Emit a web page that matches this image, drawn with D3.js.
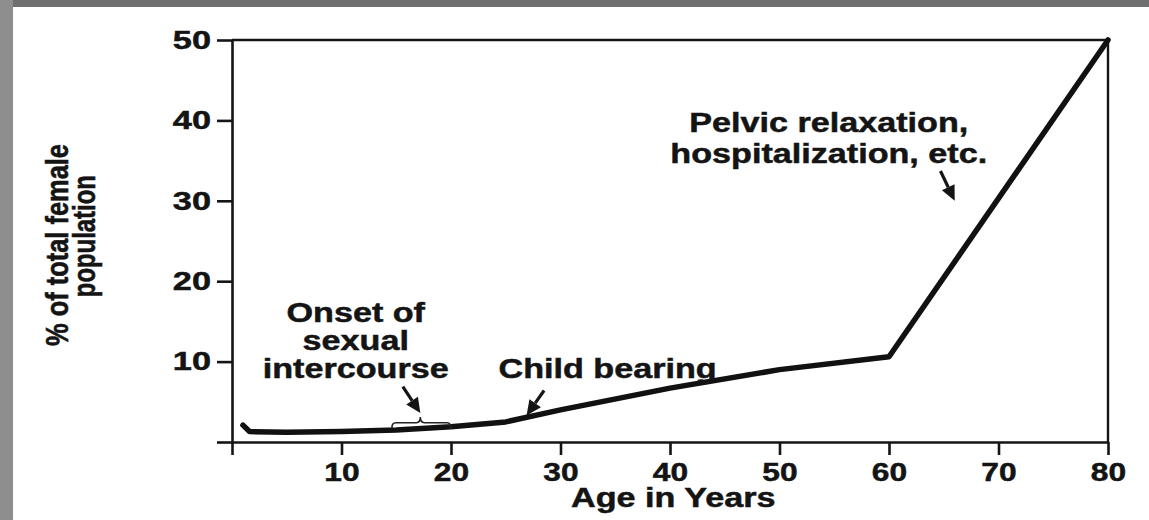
<!DOCTYPE html>
<html lang="en">
<head>
  <meta charset="UTF-8">
  <title>Age in Years</title>
  <style>
    body { margin: 0; background: #fff; }
    svg text { font-family: "Liberation Sans", Arial, sans-serif; font-weight: bold; fill: #141414; stroke: #141414; stroke-width: 0.5px; }
  </style>
</head>
<body>
  <div id="chart"></div>

  <script src="https://d3js.org/d3.v7.min.js"></script>

  <script>
    // values
    var ages = [1, 1.6, 5, 10, 15, 20, 25, 30, 40, 50, 60, 80];
    var percents = [2.1, 1.3, 1.2, 1.3, 1.5, 1.9, 2.5, 4.0, 6.7, 9.0, 10.6, 50];
    var xTicks = [0, 10, 20, 30, 40, 50, 60, 70, 80];
    var yTicks = [0, 10, 20, 30, 40, 50];
    var xTitle = "Age in Years";
    var yTitle = ["% of total female", "population"];
    var onsetText = ["Onset of", "sexual", "intercourse"];
    var childText = "Child bearing";
    var pelvicText = ["Pelvic relaxation,", "hospitalization, etc."];

    var W = 1149, H = 520;
    var margin = {top: 40, right: 41, bottom: 78, left: 232},
      width = W - margin.left - margin.right,
      height = H - margin.top - margin.bottom;
    var stretch = 1.22; // the scan is wider than it is tall

    var root = d3.select("#chart")
      .append("svg")
      .attr("width", W)
      .attr("height", H);

    // grey slide edges from the original photo
    root.append("rect").attr("x", 0).attr("y", 0).attr("width", W).attr("height", 7).attr("fill", "#6f6f6f");
    root.append("rect").attr("x", 0).attr("y", 0).attr("width", 13).attr("height", H).attr("fill", "#8e8e8e");

    var svg = root.append("g")
      .attr("transform", "translate(" + margin.left + "," + margin.top + ")");

    var x = d3.scaleLinear().domain([0, 80]).range([0, width]);
    var y = d3.scaleLinear().domain([0, 50]).range([height, 0]);

    // axes
    var xAxis = svg.append("g")
      .attr("transform", "translate(0," + height + ")")
      .call(d3.axisBottom(x).tickValues(xTicks).tickSize(13).tickSizeOuter(0).tickPadding(8)
        .tickFormat(function(d) { return d ? d : ""; }));
    var yAxis = svg.append("g")
      .call(d3.axisLeft(y).tickValues(yTicks).tickSize(15).tickSizeOuter(0).tickPadding(0)
        .tickFormat(function(d) { return d ? d : ""; }));

    [xAxis, yAxis].forEach(function(a) {
      a.attr("font-family", null).attr("font-size", null);
      a.selectAll("path, line").attr("stroke", "#151515").attr("stroke-width", 2.6);
      a.selectAll("text").style("font-size", "26px");
    });
    xAxis.selectAll("text").attr("transform", "scale(" + stretch + ",1)");
    yAxis.selectAll("text").attr("x", 0).attr("transform", "translate(-21,0) scale(1.32,1)");

    // top and right frame
    svg.append("line")
      .attr("x1", x(0)).attr("x2", x(80)).attr("y1", y(50)).attr("y2", y(50))
      .attr("stroke", "#151515").attr("stroke-width", 2.4);
    svg.append("line")
      .attr("x1", x(80)).attr("x2", x(80)).attr("y1", y(50)).attr("y2", y(0))
      .attr("stroke", "#151515").attr("stroke-width", 2.4);

    // the curve
    var pts = ages.map(function(a, i) { return [a, percents[i]]; });
    svg.append("path")
      .datum(pts)
      .attr("fill", "none")
      .attr("stroke", "#111")
      .attr("stroke-width", 5.5)
      .attr("stroke-linejoin", "round")
      .attr("stroke-linecap", "round")
      .attr("d", d3.line()
        .x(function(d) { return x(d[0]); })
        .y(function(d) { return y(d[1]); }));

    function label(parent, t, px, py, size) {
      parent.append("text")
        .attr("transform", "translate(" + px + "," + py + ") scale(" + stretch + ",1)")
        .attr("text-anchor", "middle")
        .style("font-size", size + "px")
        .text(t);
    }

    // axis titles
    label(svg, xTitle, x(40.3), height + 65, 28);

    yTitle.forEach(function(t, i) {
      root.append("text")
        .attr("transform", "translate(" + (68 + i * 27) + "," + (margin.top + y(i == 0 ? 24.5 : 25.6)) + ") rotate(-90) scale(1," + stretch + ")")
        .attr("text-anchor", "middle")
        .attr("textLength", i == 0 ? 202 : 122)
        .attr("lengthAdjust", "spacingAndGlyphs")
        .style("font-size", "26px")
        .text(t);
    });

    // annotations
    function multiline(lines, ax, ay, step) {
      lines.forEach(function(t, i) {
        label(svg, t, x(ax), y(ay) + i * step, 28);
      });
    }
    multiline(onsetText, 11.3, 14.9, 28);
    multiline([childText], 34.3, 8.0, 0);
    multiline(pelvicText, 54.5, 38.5, 31);

    // arrows [tail age, tail %, tip age, tip %]
    var arrows = [[15.6, 6.9, 17.2, 3.6], [28.5, 6.4, 26.9, 3.3], [64.7, 33.7, 66.0, 30.0]];
    arrows.forEach(function(a) {
      var x1 = x(a[0]), y1 = y(a[1]), x2 = x(a[2]), y2 = y(a[3]);
      var ang = Math.atan2(y2 - y1, x2 - x1);
      var hl = 15, hw = 7;
      var bx = x2 - hl * Math.cos(ang), by = y2 - hl * Math.sin(ang);
      svg.append("line")
        .attr("x1", x1).attr("y1", y1).attr("x2", bx).attr("y2", by)
        .attr("stroke", "#151515").attr("stroke-width", 3.2);
      svg.append("path")
        .attr("fill", "#151515")
        .attr("d", "M" + x2 + "," + y2 +
          "L" + (bx + hw * Math.sin(ang)) + "," + (by - hw * Math.cos(ang)) +
          "L" + (bx - hw * Math.sin(ang)) + "," + (by + hw * Math.cos(ang)) + "Z");
    });

    // bracket over the onset years
    var bl = x(14.6), br = x(20), bm = x(17.2);
    var bBase = y(1.75), bTop = y(2.4), bPeak = y(3.1);
    svg.append("path")
      .attr("fill", "none")
      .attr("stroke", "#222")
      .attr("stroke-width", 1.6)
      .attr("d", "M" + bl + "," + bBase + "Q" + bl + "," + bTop + " " + (bl + 4) + "," + bTop +
        "L" + (bm - 4) + "," + bTop + "Q" + bm + "," + bTop + " " + bm + "," + bPeak +
        "Q" + bm + "," + bTop + " " + (bm + 4) + "," + bTop +
        "L" + (br - 4) + "," + bTop + "Q" + br + "," + bTop + " " + br + "," + (bTop + 6));
  </script>
</body>
</html>
